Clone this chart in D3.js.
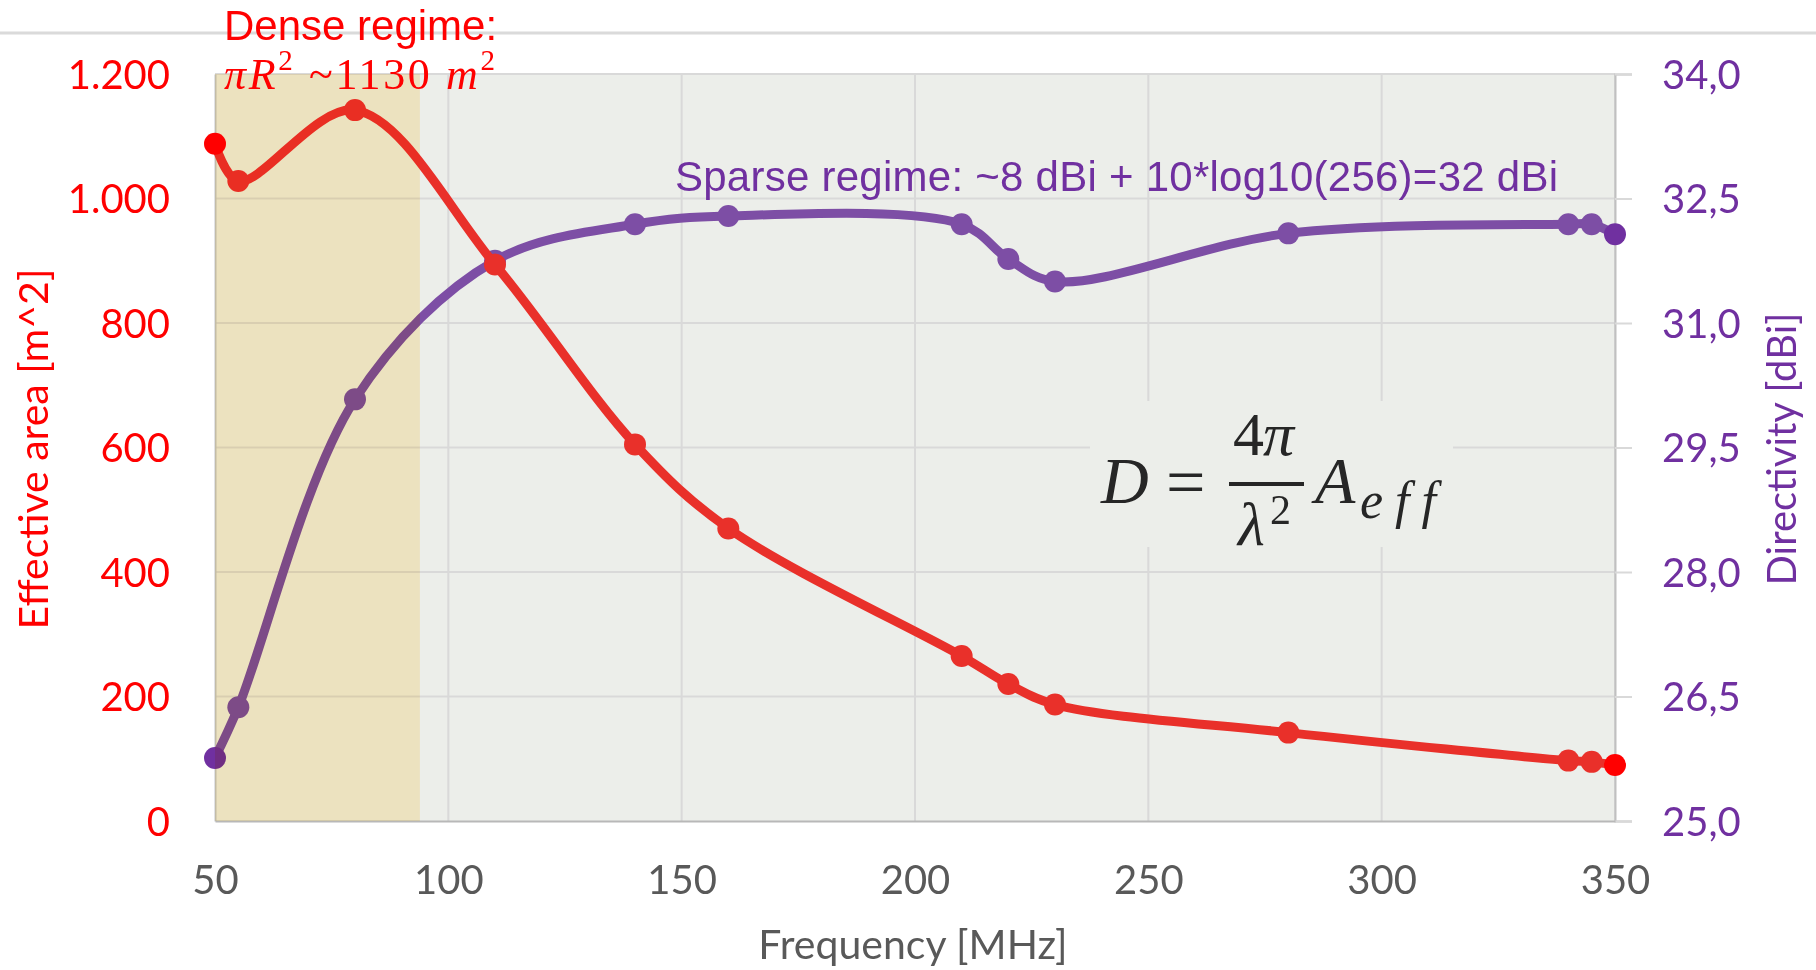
<!DOCTYPE html>
<html>
<head>
<meta charset="utf-8">
<script src="https://cdn.jsdelivr.net/npm/d3@7"></script>
<style>
  html, body { margin: 0; padding: 0; background: #ffffff; }
  svg { display: block; }
</style>
</head>
<body>
<svg id="chart" width="1816" height="970"></svg>
<script>
// ---------- data ----------
const freqMHz = [50, 55, 80, 110, 140, 160, 210, 220, 230, 280, 340, 345, 350];
const effectiveArea = [1088, 1028, 1142, 894, 605, 470, 265, 220, 187, 142, 97, 95, 90];
const directivity = [25.76, 26.37, 30.08, 31.75, 32.19, 32.29, 32.19, 31.77, 31.50, 32.08, 32.19, 32.19, 32.07];
const xTicks = [50, 100, 150, 200, 250, 300, 350];
const leftTicks = [0, 200, 400, 600, 800, 1000, 1200];
const rightTicks = [25, 26.5, 28, 29.5, 31, 32.5, 34];
const denseRegime = [50, 93.9];

// ---------- layout ----------
const W = 1816, H = 970;
const L = 215, R = 1615, T = 74, B = 821;
const svg = d3.select("#chart");

const x = d3.scaleLinear().domain([50, 350]).range([L, R]);
const yL = d3.scaleLinear().domain([0, 1200]).range([B, T]);
const yR = d3.scaleLinear().domain([25, 34]).range([B, T]);

const loc = d3.formatLocale({decimal: ",", thousands: ".", grouping: [3], currency: ["", "€"]});
const fmtL = loc.format(",.0f");
const fmtR = loc.format(".1f");

const RED = "#ff0000", RED_LINE = "#e9302a";
const PURPLE = "#7030a0", PURPLE_LINE = "#7d4ea5";
const GRID = "#d9d9d9";

// top separator line
svg.append("line").attr("x1", 0).attr("x2", W).attr("y1", 33).attr("y2", 33)
  .attr("stroke", "#dadada").attr("stroke-width", 3);

// plot background
svg.append("rect").attr("x", L).attr("y", T).attr("width", R - L).attr("height", B - T)
  .attr("fill", "#eceeea");

// grid lines
svg.append("g").selectAll("line").data(leftTicks.slice(1)).join("line")
  .attr("x1", L).attr("x2", R).attr("y1", d => yL(d)).attr("y2", d => yL(d))
  .attr("stroke", GRID).attr("stroke-width", 2);
svg.append("g").selectAll("line").data(xTicks.slice(1)).join("line")
  .attr("x1", d => x(d)).attr("x2", d => x(d)).attr("y1", T).attr("y2", B)
  .attr("stroke", GRID).attr("stroke-width", 2);

// formula background box (hides grid)
svg.append("rect").attr("x", 1090).attr("y", 401).attr("width", 363).attr("height", 146)
  .attr("fill", "#eceeea");

// left axis
const axL = svg.append("g").attr("transform", `translate(${L},0)`)
  .call(d3.axisLeft(yL).tickValues(leftTicks).tickSize(0).tickPadding(45).tickFormat(fmtL));
axL.select(".domain").attr("stroke", "#c3c6cc").attr("stroke-width", 2);
axL.selectAll("text").attr("fill", RED).attr("font-family", "Lato, sans-serif")
  .attr("font-size", 40).attr("dy", "0.36em");

// right axis
const axR = svg.append("g").attr("transform", `translate(${R},0)`)
  .call(d3.axisRight(yR).tickValues(rightTicks).tickSize(17).tickPadding(30).tickFormat(fmtR));
axR.select(".domain").attr("stroke", "#c0c0c0").attr("stroke-width", 2);
axR.selectAll(".tick line").attr("stroke", GRID).attr("stroke-width", 2);
axR.selectAll("text").attr("fill", PURPLE).attr("font-family", "Lato, sans-serif")
  .attr("font-size", 40).attr("dy", "0.36em");

// bottom axis
const axB = svg.append("g").attr("transform", `translate(0,${B})`)
  .call(d3.axisBottom(x).tickValues(xTicks).tickSize(0).tickPadding(0).tickFormat(d3.format("d")));
axB.select(".domain").attr("stroke", "#b8b8b8").attr("stroke-width", 2);
axB.selectAll("text").attr("fill", "#595959").attr("font-family", "Lato, sans-serif")
  .attr("font-size", 40).attr("y", 59).attr("dy", "0.36em");

// axis titles
svg.append("text").attr("transform", "translate(48,449) rotate(-90)")
  .attr("text-anchor", "middle").attr("fill", RED)
  .attr("font-family", "Lato, sans-serif").attr("font-size", 41)
  .text("Effective area [m^2]");
svg.append("text").attr("transform", "translate(1796,449) rotate(-90)")
  .attr("text-anchor", "middle").attr("fill", PURPLE)
  .attr("font-family", "Lato, sans-serif").attr("font-size", 40)
  .text("Directivity [dBi]");
svg.append("text").attr("x", 913).attr("y", 959)
  .attr("text-anchor", "middle").attr("fill", "#595959")
  .attr("font-family", "Lato, sans-serif").attr("font-size", 41)
  .text("Frequency [MHz]");

// series
const pts = (ys, scale) => freqMHz.map((f, i) => [x(f), scale(ys[i])]);
const line = d3.line().curve(d3.curveCatmullRom.alpha(0.5));

function drawSeries(ys, scale, lineColor, endColor) {
  const p = pts(ys, scale);
  svg.append("path").attr("d", line(p)).attr("fill", "none")
    .attr("stroke", lineColor).attr("stroke-width", 9).attr("stroke-linecap", "round")
    .attr("stroke-linejoin", "round");
  svg.append("g").selectAll("circle").data(p).join("circle")
    .attr("cx", d => d[0]).attr("cy", d => d[1]).attr("r", 11)
    .attr("fill", (d, i) => (i === 0 || i === p.length - 1) ? endColor : lineColor);
}
drawSeries(directivity, yR, PURPLE_LINE, PURPLE);
drawSeries(effectiveArea, yL, RED_LINE, RED);

// dense regime overlay (multiply tint on top)
svg.append("rect")
  .attr("x", x(denseRegime[0])).attr("y", T)
  .attr("width", x(denseRegime[1]) - x(denseRegime[0])).attr("height", B - T)
  .attr("fill", "#fff3d0").style("mix-blend-mode", "multiply");

// annotations
svg.append("text").attr("x", 224).attr("y", 40).attr("fill", RED)
  .attr("font-family", "'Liberation Sans', Arial, sans-serif").attr("font-size", 42)
  .text("Dense regime:");

const math1 = svg.append("text").attr("x", 224).attr("y", 89).attr("fill", RED)
  .attr("font-family", "'Liberation Serif', 'DejaVu Serif', serif").attr("font-size", 44)
  .attr("textLength", 271).attr("lengthAdjust", "spacing");
math1.append("tspan").attr("font-style", "italic").text("πR");
math1.append("tspan").attr("font-size", 29).attr("dy", -19).text("2");
math1.append("tspan").attr("dy", 19).text(" ~1130 ");
math1.append("tspan").attr("font-style", "italic").text("m");
math1.append("tspan").attr("font-size", 29).attr("dy", -19).text("2");

svg.append("text").attr("x", 675).attr("y", 191).attr("fill", PURPLE)
  .attr("font-family", "'Liberation Sans', Arial, sans-serif").attr("font-size", 42)
  .attr("textLength", 883).attr("lengthAdjust", "spacing")
  .text("Sparse regime: ~8 dBi + 10*log10(256)=32 dBi");

// formula D = 4π/λ² A_eff
const FC = "#262626";
const serif = "'Liberation Serif', 'DejaVu Serif', serif";
const f = svg.append("g").attr("fill", FC).attr("font-family", serif);
f.append("text").attr("x", 1101).attr("y", 503).attr("font-size", 66).attr("font-style", "italic").text("D");
f.append("text").attr("x", 1166).attr("y", 506).attr("font-size", 70).text("=");
f.append("rect").attr("x", 1229).attr("y", 482).attr("width", 75).attr("height", 4);
f.append("text").attr("x", 1233).attr("y", 455).attr("font-size", 62).text("4");
f.append("text").attr("x", 1263).attr("y", 455).attr("font-size", 62).attr("font-style", "italic").text("π");
f.append("text").attr("x", 1238).attr("y", 545).attr("font-size", 62).attr("font-style", "italic").text("λ");
f.append("text").attr("x", 1270).attr("y", 524).attr("font-size", 42).text("2");
f.append("text").attr("x", 1315).attr("y", 503).attr("font-size", 66).attr("font-style", "italic").text("A");
f.append("text").attr("x", 1360).attr("y", 518).attr("font-size", 52).attr("font-style", "italic")
  .attr("textLength", 76).attr("lengthAdjust", "spacing").text("eff");
</script>
</body>
</html>
